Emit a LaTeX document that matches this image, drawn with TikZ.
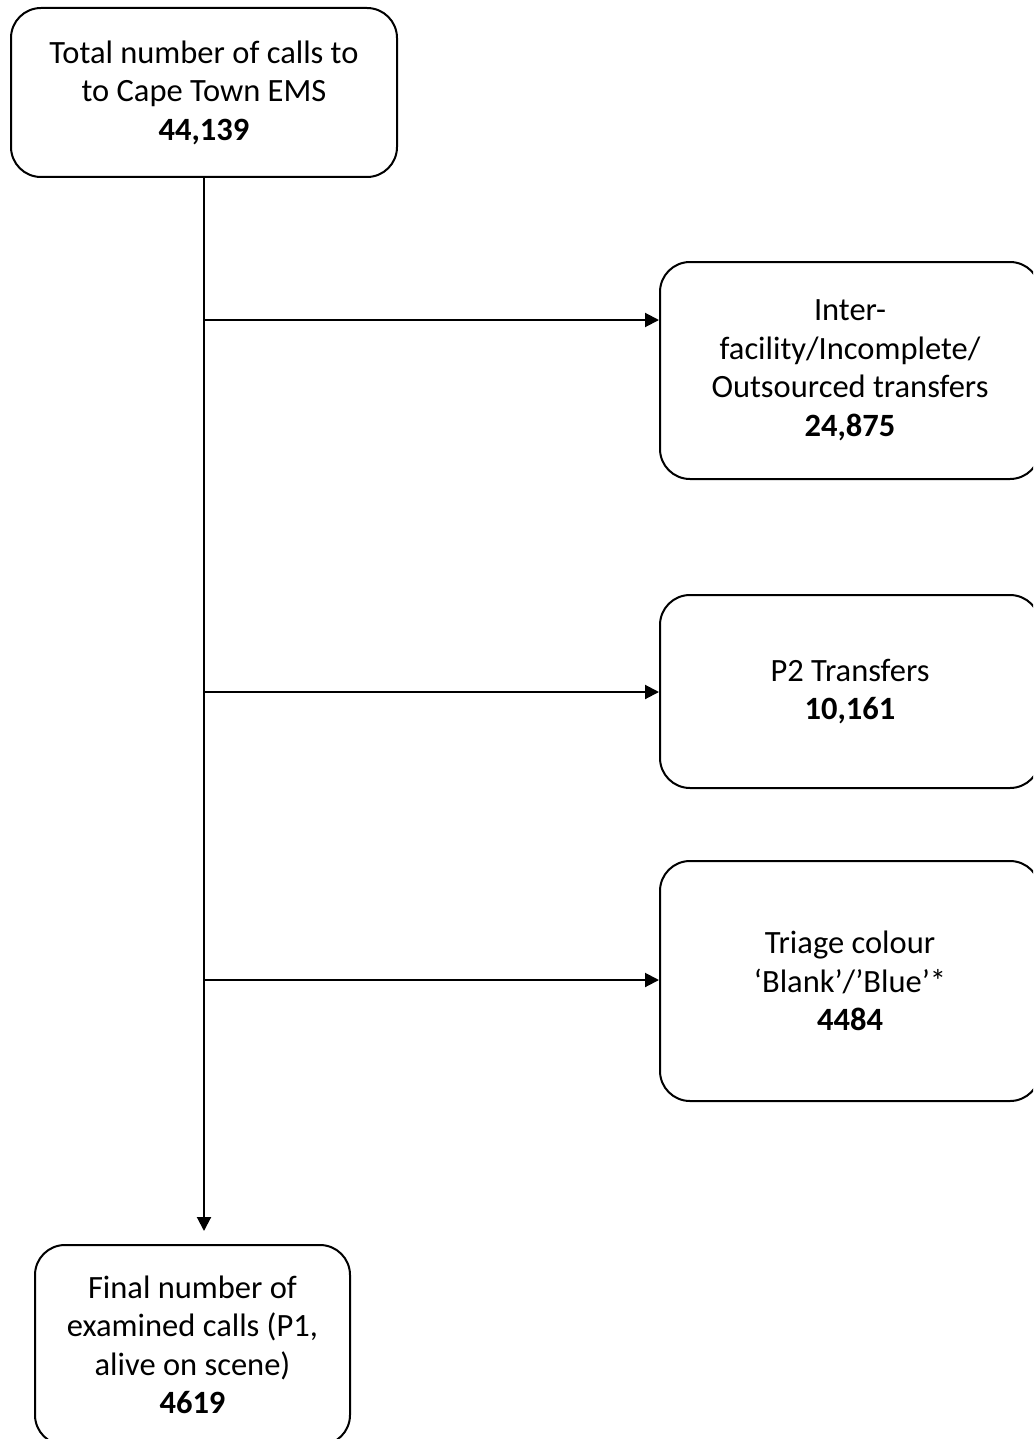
\documentclass[tikz,border=0pt]{standalone}
\usepackage{fontspec}
\setmainfont{Carlito}
\usetikzlibrary{arrows.meta}
\begin{document}
\begin{tikzpicture}[x=1pt,y=-1pt,
  box/.style={draw=black, line width=2pt, rounded corners=30pt, align=center,
    font=\fontsize{32.5}{38.5}\selectfont, inner sep=0pt},
  arr/.style={line width=2pt, -{Triangle[length=14pt,width=14pt]}}]
\useasboundingbox (0,0) rectangle (1033,1439);
\clip (0,0) rectangle (1033,1439);
\node[box, minimum width=386pt, minimum height=169pt] (top) at (204,92.5)
  {Total number of calls to\\to Cape Town EMS\\\textbf{44,139}};
\node[box, minimum width=380pt, minimum height=217pt] (r1) at (850,370.5)
  {Inter-\\facility/Incomplete/\\Outsourced transfers\\\textbf{24,875}};
\node[box, minimum width=380pt, minimum height=193pt] (r2) at (850,691.5)
  {P2 Transfers\\\textbf{10,161}};
\node[box, minimum width=380pt, minimum height=240pt] (r3) at (850,981)
  {Triage colour\\‘Blank’/’Blue’*\\\textbf{4484}};
\node[box, minimum width=315pt, minimum height=200pt] (bot) at (192.5,1345)
  {Final number of\\examined calls (P1,\\alive on scene)\\\textbf{4619}};
\coordinate (vend) at (204,1231);
\coordinate (j1) at (204,320);
\coordinate (j2) at (204,692);
\coordinate (j3) at (204,980);
\draw[arr] (top.south) -- (vend);
\draw[arr] (j1) -- (j1 -| r1.west);
\draw[arr] (j2) -- (j2 -| r2.west);
\draw[arr] (j3) -- (j3 -| r3.west);
\end{tikzpicture}
\end{document}
